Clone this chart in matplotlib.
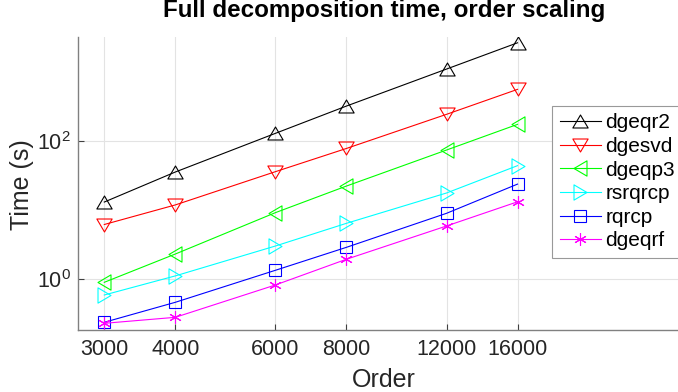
import matplotlib
matplotlib.use("Agg")
import matplotlib.pyplot as plt
from matplotlib.path import Path
from matplotlib.font_manager import FontProperties
from matplotlib.ticker import NullLocator, FixedLocator, FixedFormatter, LogFormatterSciNotation

plt.rcParams["font.family"] = ["Liberation Sans", "DejaVu Sans"]
plt.rcParams["mathtext.fontset"] = "custom"
plt.rcParams["mathtext.rm"] = "Liberation Sans"
plt.rcParams["mathtext.it"] = "Liberation Sans:italic"
plt.rcParams["mathtext.bf"] = "Liberation Sans:bold"

# Matrix orders and timings (seconds)
orders = [3000, 4000, 6000, 8000, 12000, 16000]
order_labels = ["3000", "4000", "6000", "8000", "12000", "16000"]

t_dgeqr2 = [13.1, 35.6, 129, 320, 1097, 2630]
t_dgesvd = [6.2, 11.9, 36, 78, 243, 558]
t_dgeqp3 = [0.905, 2.32, 9.2, 22.3, 74, 174]
t_rsrqrcp = [0.593, 1.12, 3.03, 6.45, 17.7, 44]
t_rqrcp = [0.239, 0.465, 1.35, 2.9, 9.0, 23.8]
t_dgeqrf = [0.231, 0.282, 0.828, 1.95, 5.9, 13.2]

series_names = ["dgeqr2", "dgesvd", "dgeqp3", "rsrqrcp", "rqrcp", "dgeqrf"]
series_times = [t_dgeqr2, t_dgesvd, t_dgeqp3, t_rsrqrcp, t_rqrcp, t_dgeqrf]
series_colors = ["#000000", "#ff0000", "#00ff00", "#00ffff", "#0000ff", "#ff00ff"]

# Slightly flattened triangles, like MATLAB's
h = 0.85
tri_up = Path([(0, h), (-1, -h), (1, -h), (0, h)], closed=True)
tri_down = Path([(0, -h), (-1, h), (1, h), (0, -h)], closed=True)
tri_left = Path([(-h, 0), (h, 1), (h, -1), (-h, 0)], closed=True)
tri_right = Path([(h, 0), (-h, 1), (-h, -1), (h, 0)], closed=True)
series_markers = [tri_up, tri_down, tri_left, tri_right, "s", (6, 2, 0)]
series_msizes = [11, 11, 11, 11, 8, 9]

fig = plt.figure(figsize=(6.78, 3.92), dpi=100)
W, H = 678, 392
ax_left, ax_top, ax_bottom = 78, 37, 329.5
ax = fig.add_axes([ax_left / W, 1 - ax_bottom / H, 1 - ax_left / W, (ax_bottom - ax_top) / H])

for name, t, c, m, ms in zip(series_names, series_times, series_colors,
                             series_markers, series_msizes):
    ax.plot(orders, t, color=c, lw=0.8, marker=m, markersize=ms,
            markerfacecolor="none", markeredgecolor=c, markeredgewidth=0.8,
            label=name)

ax.set_xscale("log")
ax.set_yscale("log")
ax.set_xlim(2697, 30650)
ax.set_ylim(0.188, 3190)

ax.xaxis.set_major_locator(FixedLocator(orders))
ax.xaxis.set_major_formatter(FixedFormatter(order_labels))
ax.xaxis.set_minor_locator(NullLocator())
ax.yaxis.set_major_locator(FixedLocator([1, 100]))
ax.yaxis.set_major_formatter(LogFormatterSciNotation())
ax.yaxis.set_minor_locator(NullLocator())

ax.grid(True, which="major", color="#e3e3e3", lw=0.8)
ax.set_axisbelow(True)

for s in ("top", "right"):
    ax.spines[s].set_visible(False)
for s in ("left", "bottom"):
    ax.spines[s].set_color("#808080")
    ax.spines[s].set_linewidth(1.0)

ax.tick_params(axis="both", direction="in", length=4.5, width=0.8,
               color="#404040", labelcolor="#262626", labelsize=15.5)
ax.tick_params(axis="x", pad=7)
ax.tick_params(axis="y", pad=5)

ax.set_title("Full decomposition time, order scaling", fontsize=17.4,
             fontweight="bold", x=0.51, y=1.039, va="baseline")
ax.set_xlabel("Order", fontsize=18, color="#262626", va="top")
ax.xaxis.set_label_coords(0.51, -0.1316)
ax.set_ylabel("Time (s)", fontsize=18, color="#262626", va="center")
ax.yaxis.set_label_coords((22 - ax_left) / 600, 0.494)

leg_font = FontProperties(family=["Liberation Sans", "DejaVu Sans"], size=15)
leg = ax.legend(loc="upper left", bbox_to_anchor=(552 / W, 1 - 106 / H),
                bbox_transform=fig.transFigure, borderaxespad=0,
                prop=leg_font, handlelength=2.0, handletextpad=0.2,
                borderpad=0.36, labelspacing=0.22, fancybox=False,
                framealpha=1, edgecolor="#999999")
leg.get_frame().set_linewidth(0.8)

fig.savefig("out.png", dpi=100)
